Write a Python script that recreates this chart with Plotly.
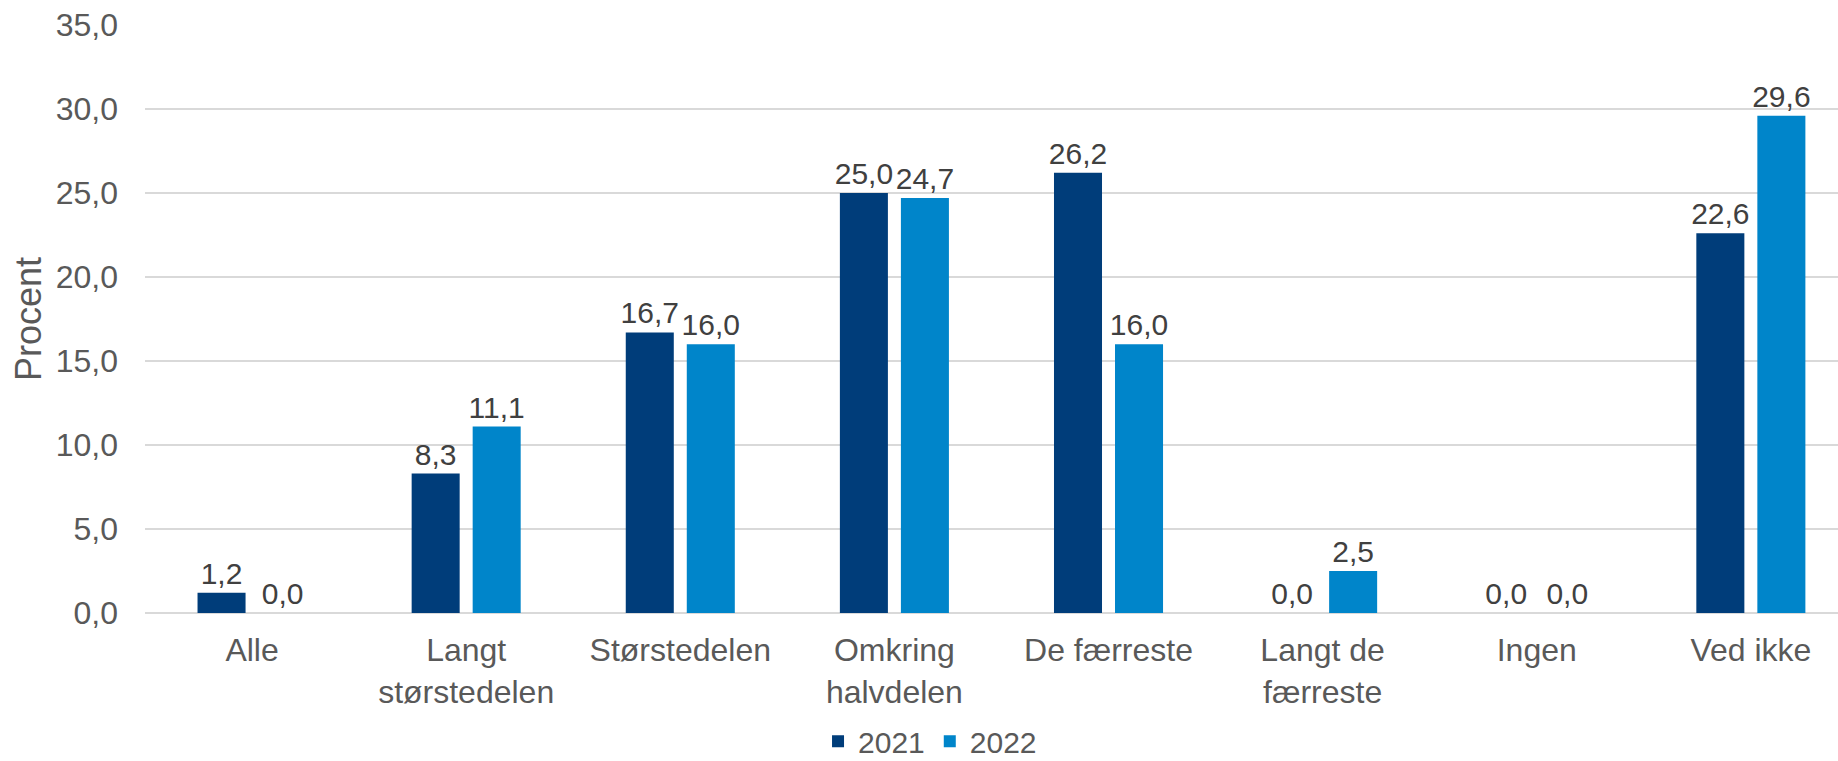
import plotly.graph_objects as go

categories = ["Alle", "Langt<br>størstedelen", "Størstedelen", "Omkring<br>halvdelen",
              "De færreste", "Langt de<br>færreste", "Ingen", "Ved ikke"]
values_2021 = [1.2, 8.3, 16.7, 25.0, 26.2, 0.0, 0.0, 22.6]
values_2022 = [0.0, 11.1, 16.0, 24.7, 16.0, 2.5, 0.0, 29.6]
y_ticks = [0, 5, 10, 15, 20, 25, 30, 35]

fig = go.Figure()
fig.add_trace(go.Bar(x=categories, y=values_2021, name="2021", marker_color="#003D7A",
                     texttemplate="%{y:.1f}", textposition="outside", cliponaxis=False))
fig.add_trace(go.Bar(x=categories, y=values_2022, name="2022", marker_color="#0085CA",
                     texttemplate="%{y:.1f}", textposition="outside", cliponaxis=False))

fig.update_traces(textfont=dict(size=30, color="#404040"), constraintext="none",
                  marker_line_width=0)
fig.update_layout(
    width=1838, height=761,
    separators=",.",
    barmode="group", bargap=0.43, bargroupgap=0.213,
    plot_bgcolor="white", paper_bgcolor="white",
    font=dict(family="Liberation Sans, Arial", size=32, color="#595959"),
    margin=dict(l=145, r=0, t=25, b=148, autoexpand=False),
    legend=dict(orientation="h", x=0.506, xanchor="center", xref="container",
                y=0.026, yanchor="middle", yref="container",
                font=dict(size=30, color="#595959"), traceorder="normal"),
    xaxis=dict(range=[-0.5, 7.407], showgrid=False, showline=False, ticks="",
               ticklabelstandoff=15, tickfont=dict(size=32, color="#595959")),
    yaxis=dict(range=[0, 35], tickvals=y_ticks, tickformat=".1f", showgrid=True,
               gridcolor="#D9D9D9", gridwidth=2, zeroline=True, zerolinecolor="#D9D9D9",
               zerolinewidth=2, ticks="", ticklabelstandoff=26,
               tickfont=dict(size=32, color="#595959"),
               title=dict(text="Procent", standoff=3,
                          font=dict(size=36, color="#595959"))),
)

# the page's default body margin would shift the chart by 8px
fig.write_html("out.html", config={"displayModeBar": False},
               post_script="document.body.style.margin='0';")
